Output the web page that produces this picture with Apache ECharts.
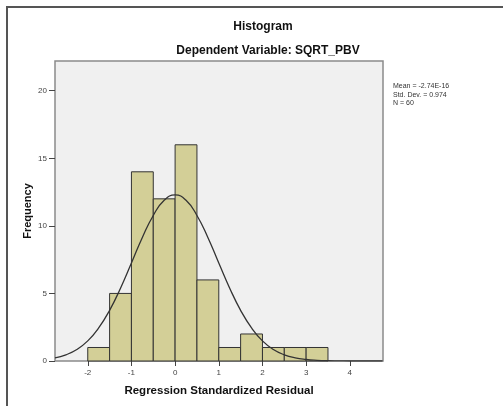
<!DOCTYPE html>
<html>
<head>
<meta charset="utf-8">
<script src="https://cdn.jsdelivr.net/npm/echarts@6.0.0/dist/echarts.min.js"></script>
<style>
  html, body { margin: 0; padding: 0; background: #fff; }
  #chart { width: 503px; height: 406px; }
</style>
</head>
<body>
<div id="chart"></div>
<script>
// histogram bins (width 0.5) and their counts
const binStarts = [-2, -1.5, -1, -0.5, 0, 0.5, 1, 1.5, 2, 2.5, 3];
const binEnds = [-1.5, -1, -0.5, 0, 0.5, 1, 1.5, 2, 2.5, 3, 3.5];
const counts = [1, 5, 14, 12, 16, 6, 1, 2, 1, 1, 1];

// normal curve
const curveX = [-2.75, -2.5, -2.25, -2, -1.75, -1.5, -1.25, -1, -0.75, -0.5, -0.25, 0,
  0.25, 0.5, 0.75, 1, 1.25, 1.5, 1.75, 2, 2.25, 2.5, 2.75, 3, 3.25, 3.5, 3.75, 4, 4.25, 4.5, 4.75];
const curveY = [0.23, 0.46, 0.85, 1.49, 2.45, 3.75, 5.39, 7.25, 9.14, 10.77, 11.89, 12.29,
  11.89, 10.77, 9.14, 7.25, 5.39, 3.75, 2.45, 1.49, 0.85, 0.46, 0.23, 0.11, 0.05, 0.02, 0.01, 0, 0, 0, 0];

const xTicks = [-2, -1, 0, 1, 2, 3, 4];
const yTicks = [0, 5, 10, 15, 20];

const statLines = ['Mean = -2.74E-16', 'Std. Dev. = 0.974', 'N = 60'];

const chart = echarts.init(document.getElementById('chart'));
const font = 'Liberation Sans, Arial, sans-serif';

const histData = binStarts.map((s, i) => [s, binEnds[i], counts[i]]);
const curveData = curveX.map((x, i) => [x, curveY[i]]);

chart.setOption({
  animation: false,
  backgroundColor: '#fff',
  title: [
    {
      text: 'Histogram',
      left: 258, top: 16, textAlign: 'center',
      textStyle: { fontFamily: font, fontSize: 12, fontWeight: 'bold', color: '#111' }
    },
    {
      text: 'Dependent Variable: SQRT_PBV',
      left: 263, top: 40, textAlign: 'center',
      textStyle: { fontFamily: font, fontSize: 12, fontWeight: 'bold', color: '#111' }
    },
    {
      text: statLines.join('\n'),
      left: 388, top: 77,
      textStyle: { fontFamily: font, fontSize: 7, fontWeight: 'normal', color: '#333', lineHeight: 8.5 }
    }
  ],
  graphic: [
    {
      type: 'rect',
      shape: { x: 7, y: 7, width: 700, height: 600 },
      style: { fill: 'none', stroke: '#555', lineWidth: 2 },
      silent: true
    }
  ],
  grid: {
    left: 55, top: 61, right: 120, bottom: 45,
    show: true,
    backgroundColor: '#f0f0f0',
    borderColor: '#8a8a8a',
    borderWidth: 1.5
  },
  xAxis: {
    type: 'value',
    min: -2.75,
    max: 4.76,
    name: 'Regression Standardized Residual',
    nameLocation: 'middle',
    nameGap: 24,
    nameTextStyle: { fontFamily: font, fontSize: 11.5, fontWeight: 'bold', color: '#111' },
    axisLine: { show: false, onZero: false },
    splitLine: { show: false },
    axisTick: { show: true, length: 5, customValues: xTicks, lineStyle: { color: '#444', width: 1 } },
    axisLabel: { customValues: xTicks, margin: 8, fontFamily: font, fontSize: 8, color: '#444' }
  },
  yAxis: {
    type: 'value',
    min: 0,
    max: 22.2,
    name: 'Frequency',
    nameLocation: 'middle',
    nameGap: 22,
    nameMoveOverlap: false,
    nameTextStyle: { fontFamily: font, fontSize: 11, fontWeight: 'bold', color: '#111' },
    axisLine: { show: false, onZero: false },
    splitLine: { show: false },
    axisTick: { show: true, length: 6, customValues: yTicks, lineStyle: { color: '#444', width: 1 } },
    axisLabel: { customValues: yTicks, margin: 8, fontFamily: font, fontSize: 8, color: '#444' }
  },
  series: [
    {
      type: 'custom',
      data: histData,
      encode: { x: [0, 1], y: 2 },
      renderItem: function (params, api) {
        const topLeft = api.coord([api.value(0), api.value(2)]);
        const bottomRight = api.coord([api.value(1), 0]);
        return {
          type: 'rect',
          shape: {
            x: topLeft[0],
            y: topLeft[1],
            width: bottomRight[0] - topLeft[0],
            height: bottomRight[1] - topLeft[1]
          },
          style: { fill: '#d3cf97', stroke: '#333', lineWidth: 1 }
        };
      }
    },
    {
      type: 'line',
      data: curveData,
      smooth: true,
      showSymbol: false,
      z: 5,
      lineStyle: { color: '#333', width: 1.3 }
    }
  ]
});
</script>
</body>
</html>
